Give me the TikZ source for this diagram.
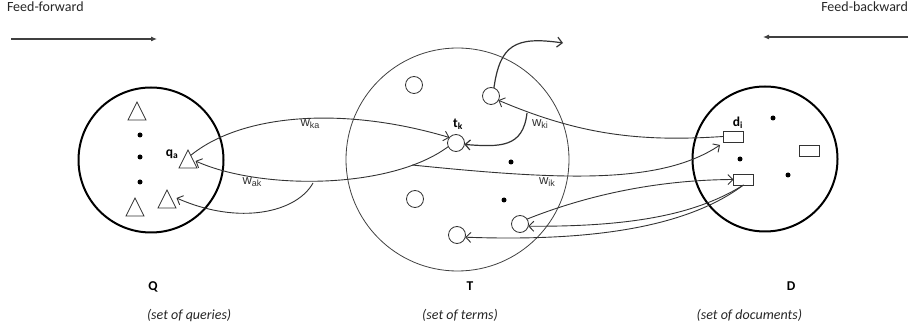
\documentclass[tikz,border=0pt]{standalone}
\usepackage{fontspec}
\setmainfont{Carlito}
\newfontfamily\wfont{Liberation Sans}
\usetikzlibrary{shapes.geometric,arrows.meta,calc}
\begin{document}
\begin{tikzpicture}[x=1pt,y=-1pt,
  every node/.style={inner sep=0pt, outer sep=0pt},
  bigthick/.style={draw=black, circle, line width=2pt, minimum size=145pt},
  bigthin/.style={draw=black!75, circle, line width=0.8pt, minimum size=223pt},
  tri/.style={draw=black!80, isosceles triangle, isosceles triangle stretches, shape border rotate=90, minimum width=18pt, minimum height=18pt, line width=0.8pt, anchor=lower side},
  sc/.style={draw=black!80, circle, minimum size=17pt, line width=0.8pt},
  rect/.style={draw=black!80, rectangle, minimum width=20pt, minimum height=11pt, line width=0.8pt},
  dot/.style={fill=black, circle, minimum size=5pt},
  conn/.style={draw=black!80, line width=0.9pt, -{Straight Barb[length=5pt,width=10pt]}},
  connb/.style={conn, line width=1.2pt},
  feed/.style={draw=black!75, line width=1.1pt, -{Latex[length=6pt,width=5pt]}},
  wlab/.style={font=\wfont\fontsize{13}{15}\selectfont, text=black!80},
  blab/.style={font=\bfseries\fontsize{13.5}{16}\selectfont},
  txt/.style={font=\fontsize{14}{17}\selectfont, text=black!85},
  itl/.style={font=\itshape\fontsize{14}{17}\selectfont, text=black!85}
]
\useasboundingbox (0,0) rectangle (910,336);

% big sets
\node[bigthick] (Q) at (151,160) {};
\node[bigthin] (T) at (457.5,159.5) {};
\node[bigthick] (D) at (765,159) {};

% Q contents
\node[tri] (q1) at (137,120) {};
\node[tri] (qa) at (188,168) {};
\node[tri] (q3) at (135,216) {};
\node[tri] (q4) at (167,208) {};
\node[dot] (qd1) at (140,135) {};
\node[dot] (qd2) at (140,157) {};
\node[dot] (qd3) at (140,182) {};
\node[blab] (qalab) at (172,154) {q\textsubscript{a}};

% T contents
\node[sc] (c1) at (414,85) {};
\node[sc] (c2) at (491,96) {};
\node[sc] (tk) at (456,143) {};
\node[sc] (c4) at (415,199) {};
\node[sc] (c5) at (520,224) {};
\node[sc] (c6) at (457,235) {};
\node[dot] (td1) at (511,162) {};
\node[dot] (td2) at (504,200) {};
\node[blab] (tklab) at (458,124) {t\textsubscript{k}};

% D contents
\node[rect] (di) at (733,136.5) {};
\node[rect] (d2) at (809.5,150.5) {};
\node[rect] (d3) at (743.5,179.5) {};
\node[dot] (dd1) at (773,118) {};
\node[dot] (dd2) at (740,159) {};
\node[dot] (dd3) at (788,175) {};
\node[blab] (dilab) at (738,123) {d\textsubscript{i}};

% free ends
\coordinate (br) at (313,183);
\coordinate (wkib) at (527,113);
\coordinate (wiks) at (412,165);
\coordinate (c2out) at (563,43);

% connectors Q <-> T
\path[conn] ($(qa.apex)!0.3!(qa.right corner)$) .. controls (240,115) and (340,105) .. (tk.140);
\path[conn] (tk.205) .. controls (390,190) and (260,190) .. ($(qa.right side)+(3,2)$);
\path[conn] (br) .. controls (297,212) and (240,226) .. ($(q4.right side)+(5,-1)$);

% connectors T <-> D
\path[conn] (di.west) .. controls (640,142) and (580,135) .. (c2.-30);
\path[connb] (wkib) .. controls (523,148) and (500,147) .. (tk.-10);
\path[conn] (wiks) .. controls (560,180) and (660,185) .. ($(di.south west)+(-3,3)$);
\path[conn] (c5.35) .. controls (580,198) and (650,180) .. (d3.west);
\path[conn] (d3.south) .. controls (700,212) and (640,227) .. (c5.-15);
\path[conn] (d3.south) .. controls (690,225) and (600,242) .. (c6.-15);
\path[connb] (c2.70) .. controls (500,45) and (515,36) .. (c2out);

% labels on connectors
\node[wlab] (wka) at (310,124) {w\raisebox{-2.5pt}{\fontsize{9}{10}\selectfont ka}};
\node[wlab] (wak) at (252,182) {w\raisebox{-2.5pt}{\fontsize{9}{10}\selectfont ak}};
\node[wlab] (wki) at (540,124) {w\raisebox{-2.5pt}{\fontsize{9}{10}\selectfont ki}};
\node[wlab] (wik) at (547,182) {w\raisebox{-2.5pt}{\fontsize{9}{10}\selectfont ik}};

% feed arrows
\node[txt, anchor=base west] (ff) at (7,12) {Feed-forward};
\node[txt, anchor=base east] (fb) at (908,12) {Feed-backward};
\coordinate (ffa) at (11,39);
\coordinate (ffb) at (157,39);
\coordinate (fba) at (908,37);
\coordinate (fbb) at (763,37);
\path[feed] (ffa) -- (ffb);
\path[feed] (fba) -- (fbb);

% set names
\node[blab, anchor=base] (Ql) at (153,291) {Q};
\node[blab, anchor=base] (Tl) at (470,291) {T};
\node[blab, anchor=base] (Dl) at (791,291) {D};
\node[itl, anchor=base west] (Qs) at (147,320) {(set of queries)};
\node[itl, anchor=base] (Ts) at (460,320) {(set of terms)};
\node[itl, anchor=base east] (Ds) at (802,320) {(set of documents)};
\end{tikzpicture}
\end{document}
